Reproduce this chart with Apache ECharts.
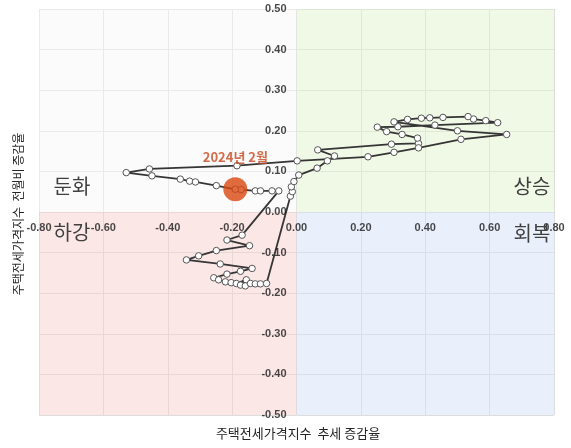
<!DOCTYPE html>
<html><head><meta charset="utf-8">
<script src="https://cdn.jsdelivr.net/npm/echarts@6/dist/echarts.min.js"></script>
<style>html,body{margin:0;padding:0;background:#fff}#c{width:571px;height:448px}</style>
</head><body><div id="c"></div>
<script>
// trend growth (x) and month-on-month growth (y), in time order (last = 2024-02)
const trendRate = [-0.172,-0.128,-0.112,-0.076,-0.055,-0.169,-0.216,-0.146,-0.249,-0.304,-0.342,-0.237,-0.138,-0.174,-0.216,-0.257,-0.242,-0.221,-0.203,-0.187,-0.156,-0.174,-0.159,-0.143,-0.128,-0.112,-0.093,-0.019,-0.013,-0.016,-0.008,0.007,0.064,0.096,0.118,0.066,0.295,0.379,0.376,0.328,0.280,0.251,0.315,0.430,0.625,0.588,0.550,0.533,0.455,0.414,0.388,0.345,0.303,0.500,0.653,0.511,0.379,0.303,0.222,0.002,-0.185,-0.457,-0.529,-0.449,-0.361,-0.332,-0.314,-0.249,-0.190];
const momRate   = [0.055,0.052,0.052,0.052,0.052,-0.057,-0.069,-0.083,-0.095,-0.108,-0.118,-0.128,-0.139,-0.146,-0.153,-0.162,-0.167,-0.172,-0.174,-0.176,-0.167,-0.180,-0.182,-0.176,-0.177,-0.177,-0.176,0.039,0.050,0.062,0.075,0.091,0.108,0.126,0.138,0.153,0.167,0.169,0.182,0.191,0.198,0.209,0.210,0.214,0.220,0.225,0.229,0.235,0.233,0.232,0.231,0.228,0.222,0.200,0.191,0.179,0.158,0.147,0.136,0.126,0.114,0.106,0.097,0.089,0.081,0.076,0.074,0.065,0.056];
const highlightX = [-0.190];
const highlightY = [0.056];
const highlightLabel = ['2024년 2월'];
const xTicks = [-0.8,-0.6,-0.4,-0.2,0,0.2,0.4,0.6,0.8];
const yTicks = [-0.5,-0.4,-0.3,-0.2,-0.1,0,0.1,0.2,0.3,0.4,0.5];
const quadrantNames = ['둔화','하강','상승','회복'];
const xName = '주택전세가격지수  추세 증감율';
const yName = '주택전세가격지수  전월비 증감율';

const lineData = trendRate.map((v,i)=>[v, momRate[i]]);
const hiData = highlightX.map((v,i)=>[v, highlightY[i]]);
const lblFont = 'Liberation Sans, Arial, sans-serif';
const krFont = '"Noto Sans CJK KR", sans-serif';
const tickLabelStyle = {show:true,fontWeight:'bold',fontSize:11,color:'#1a1a1a',fontFamily:lblFont};

const chart = echarts.init(document.getElementById('c'));
chart.setOption({
  animation:false,
  grid:{left:39,right:17,top:9,bottom:33},
  xAxis:{type:'value',min:xTicks[0],max:xTicks[xTicks.length-1],interval:0.2,
    axisLine:{show:false},axisTick:{show:false},axisLabel:{show:false},
    splitLine:{lineStyle:{color:'#dddddd'}}},
  yAxis:{type:'value',min:yTicks[0],max:yTicks[yTicks.length-1],interval:0.1,
    axisLine:{show:false},axisTick:{show:false},axisLabel:{show:false},
    splitLine:{lineStyle:{color:'#dddddd'}}},
  graphic:[
    {type:'text',x:298,y:433,style:{text:xName,font:'13px '+krFont,fill:'#262626',textAlign:'center',textVerticalAlign:'middle'}},
    {type:'text',x:18,y:214,rotation:Math.PI/2,style:{text:yName,font:'12px '+krFont,fill:'#262626',textAlign:'center',textVerticalAlign:'middle'}},
    {type:'text',x:72,y:186,style:{text:quadrantNames[0],font:'20px '+krFont,fill:'#404040',textAlign:'center',textVerticalAlign:'middle'},z:10},
    {type:'text',x:72,y:232,style:{text:quadrantNames[1],font:'20px '+krFont,fill:'#404040',textAlign:'center',textVerticalAlign:'middle'},z:10},
    {type:'text',x:532,y:186,style:{text:quadrantNames[2],font:'20px '+krFont,fill:'#404040',textAlign:'center',textVerticalAlign:'middle'},z:10},
    {type:'text',x:532,y:233,style:{text:quadrantNames[3],font:'20px '+krFont,fill:'#404040',textAlign:'center',textVerticalAlign:'middle'},z:10}
  ],
  series:[
    {type:'line',data:lineData,symbol:'circle',symbolSize:6.5,showAllSymbol:true,
     lineStyle:{color:'#363636',width:1.8},
     itemStyle:{color:'#ffffff',borderColor:'#555555',borderWidth:1},
     z:3,
     markArea:{silent:true,data:[
       [{coord:[-0.8,0],itemStyle:{color:'rgba(247,247,247,0.5)'}},{coord:[0,0.5]}],
       [{coord:[0,0],itemStyle:{color:'rgba(225,242,205,0.5)'}},{coord:[0.8,0.5]}],
       [{coord:[-0.8,-0.5],itemStyle:{color:'rgba(250,208,208,0.5)'}},{coord:[0,0]}],
       [{coord:[0,-0.5],itemStyle:{color:'rgba(212,224,247,0.5)'}},{coord:[0.8,0]}]
     ]}},
    {type:'scatter',data:xTicks.map(t=>[t,0]),symbolSize:0,silent:true,z:4,
     label:Object.assign({position:'bottom',distance:10,formatter:p=>p.value[0].toFixed(2)},tickLabelStyle)},
    {type:'scatter',data:yTicks.map(t=>[0,t]),symbolSize:0,silent:true,z:4,
     label:Object.assign({position:'left',distance:10,formatter:p=>p.value[1].toFixed(2)},tickLabelStyle)},
    {type:'scatter',data:hiData,symbolSize:24,z:5,
     itemStyle:{color:'#d9470f'},
     label:{show:true,position:'top',distance:14,formatter:()=>highlightLabel[0],
       color:'#c8471d',fontWeight:'bold',fontSize:13,fontFamily:krFont}}
  ]
});
</script></body></html>
